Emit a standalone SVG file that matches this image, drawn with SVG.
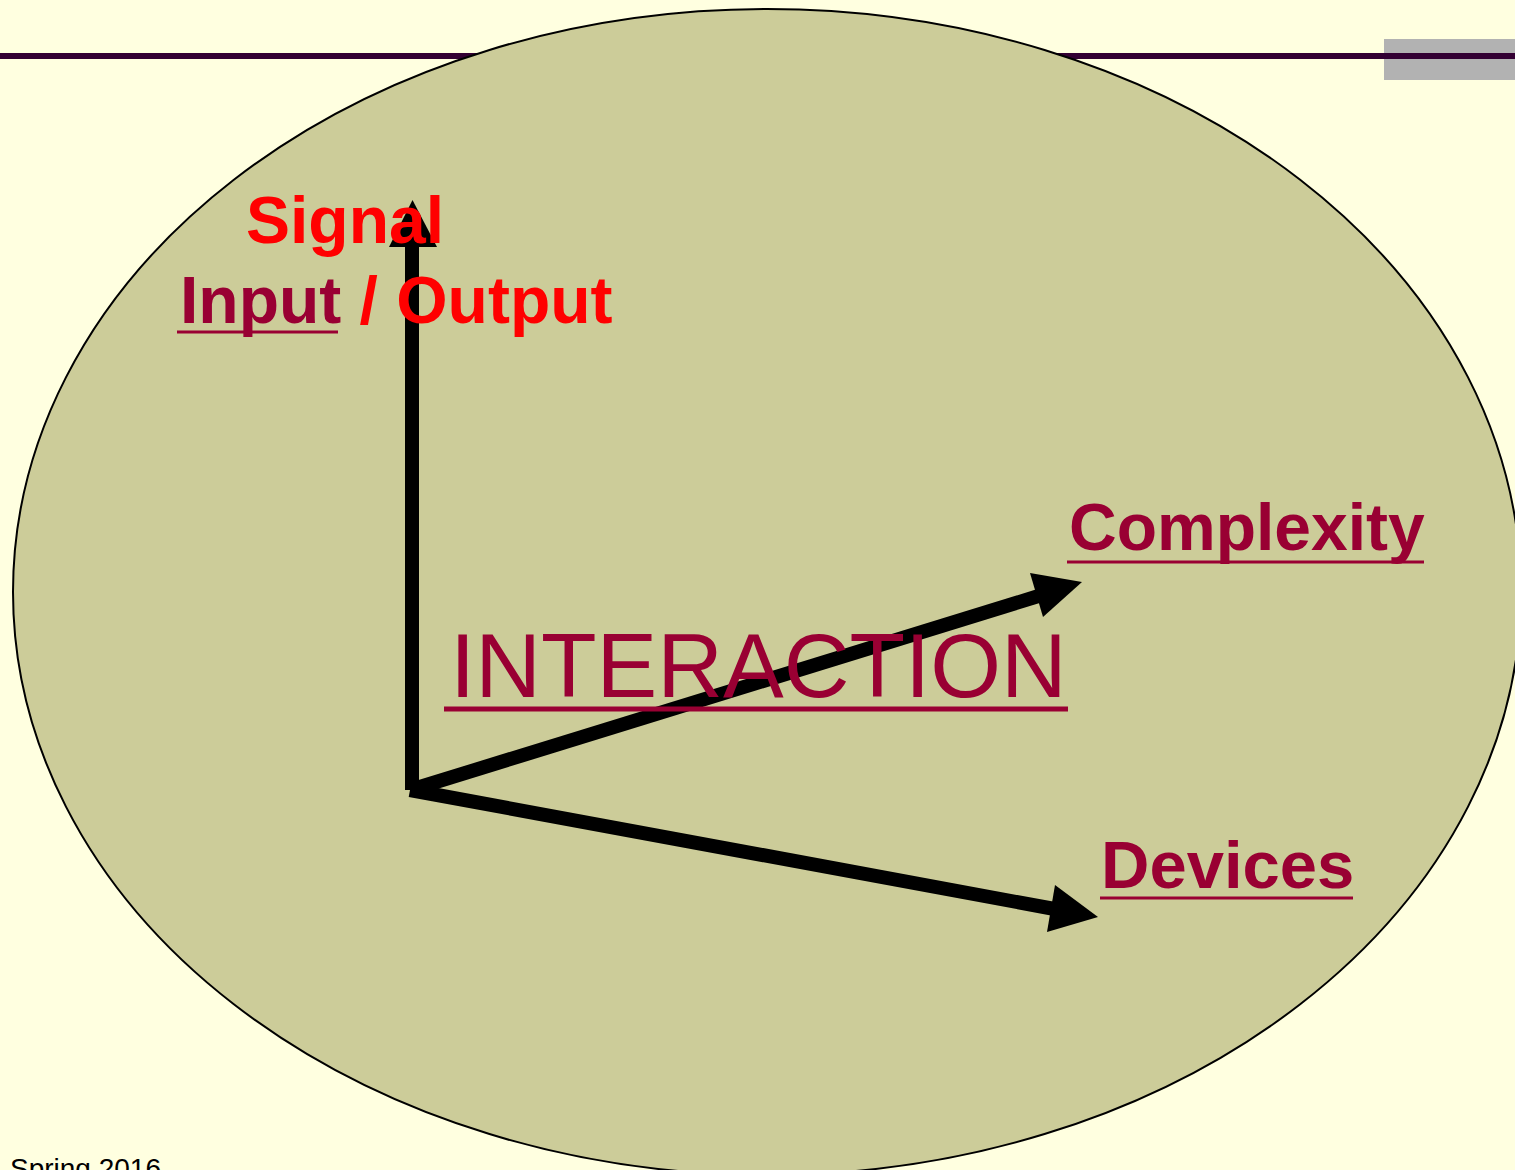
<svg xmlns="http://www.w3.org/2000/svg" width="1515" height="1170" viewBox="0 0 1515 1170">
<defs>
<style>
.b{font-family:"Liberation Sans",Arial,sans-serif;font-weight:bold;font-size:66px}
.dr{fill:#990033}
.rd{fill:#ff0000}
.ul{stroke:#990033;stroke-width:3}
.ax{stroke:#000;stroke-width:14;fill:none}
.hd{fill:#000}
</style>
</defs>
<rect width="1515" height="1170" fill="#ffffe0"/>
<rect x="1384" y="39" width="131" height="41" fill="#b2b2b2"/>
<rect x="0" y="53" width="1515" height="6" fill="#330033"/>
<g id="ellipse">
<ellipse cx="767" cy="592" rx="754" ry="583" fill="#cccc99" stroke="#000" stroke-width="2"/>
</g>
<g id="connectors">
<line class="ax" x1="412" y1="790" x2="412" y2="240"/>
<polygon class="hd" points="412.5,200 437,247 389,247"/>
<line class="ax" x1="410" y1="790" x2="1045" y2="594"/>
<polygon class="hd" points="1082,582 1030,573 1043,617"/>
<line class="ax" x1="410" y1="790" x2="1060" y2="910"/>
<polygon class="hd" points="1098,917 1055,885 1047,932"/>
</g>
<g id="signal">
<text class="b rd" x="246" y="243">Signal</text>
</g>
<g id="inputoutput">
<text class="b" x="180" y="323"><tspan class="dr">Input</tspan><tspan class="rd"> / Output</tspan></text>
<line class="ul" x1="177" y1="332" x2="338" y2="332"/>
</g>
<g id="complexity">
<text class="b dr" x="1069" y="550">Complexity</text>
<line class="ul" x1="1067" y1="562" x2="1424" y2="562"/>
</g>
<g id="devices">
<text class="b dr" x="1101" y="888" style="font-size:67px">Devices</text>
<line class="ul" x1="1100" y1="898" x2="1353" y2="898"/>
</g>
<g id="interaction">
<text class="dr" x="450" y="697" style="font-family:'Liberation Sans',Arial,sans-serif;font-size:91px">INTERACTION</text>
<line x1="444" y1="709" x2="1068" y2="709" stroke="#990033" stroke-width="5"/>
</g>
<text x="10" y="1178" style="font-family:'Liberation Sans',Arial,sans-serif;font-size:28px" fill="#000">Spring 2016</text>
</svg>
